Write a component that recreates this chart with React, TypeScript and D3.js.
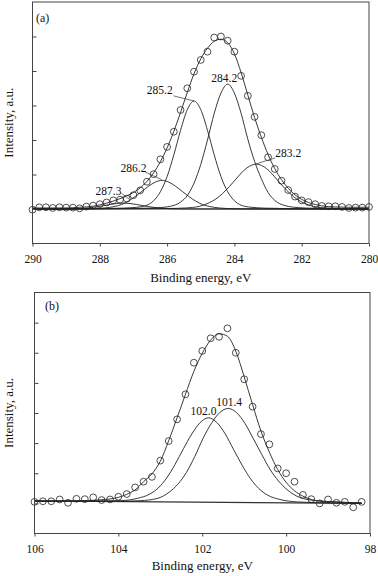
import { useEffect, useRef } from 'react';
import * as d3 from 'd3';

const WIDTH = 378;
const HEIGHT = 576;
const FONT = '"Liberation Serif", "Times New Roman", serif';

// ---- panel (a): C 1s ----
const energyA = [
  290, 289.8, 289.6, 289.4, 289.2, 289, 288.8, 288.6, 288.4, 288.2,
  288, 287.8, 287.6, 287.4, 287.2, 287, 286.8, 286.6, 286.4, 286.2,
  286, 285.8, 285.6, 285.4, 285.2, 285, 284.8, 284.6, 284.4, 284.2,
  284, 283.8, 283.6, 283.4, 283.2, 283, 282.8, 282.6, 282.4, 282.2,
  282, 281.8, 281.6, 281.4, 281.2, 281, 280.8, 280.6, 280.4, 280.2, 280,
];
const countsA = [
  -0.02, 0.05, 0.05, 0.03, 0.05, 0.04, 0.04, 0.02, 0.07, 0.1,
  0.14, 0.19, 0.25, 0.27, 0.3, 0.4, 0.54, 0.79, 1.01, 1.44,
  1.8, 2.24, 2.87, 3.5, 3.98, 4.32, 4.56, 4.97, 5.0, 4.88,
  4.56, 3.86, 3.28, 2.67, 2.14, 1.5, 1.16, 0.82, 0.55, 0.36,
  0.25, 0.2, 0.14, 0.09, 0.08, 0.08, 0.06, 0.03, 0.04, 0.04, 0.06,
];
const envelopeAx = [
  290, 289, 288.6, 288.2, 288, 287.8, 287.6, 287.4, 287.2, 287, 286.8, 286.6, 286.4, 286.2,
  286, 285.8, 285.6, 285.4, 285.2, 285, 284.8, 284.6, 284.4, 284.2, 284, 283.8, 283.6,
  283.4, 283.2, 283, 282.8, 282.6, 282.4, 282.2, 282, 281.8, 281.6, 281.4, 281, 280.6, 280,
];
const envelopeAy = [
  0.03, 0.03, 0.05, 0.08, 0.12, 0.17, 0.23, 0.3, 0.38, 0.48, 0.61, 0.8, 1.05, 1.37,
  1.77, 2.25, 2.8, 3.38, 3.92, 4.35, 4.66, 4.86, 4.92, 4.82, 4.5, 3.95, 3.3,
  2.65, 2.08, 1.58, 1.17, 0.85, 0.6, 0.41, 0.28, 0.19, 0.13, 0.09, 0.06, 0.05, 0.05,
];
const peak2873x = [290, 289.4, 289, 288.7, 288.5, 288.3, 288.1, 287.9, 287.7, 287.5, 287.3, 287.1, 286.9, 286.7, 286.5, 286.3, 286.1, 285.9, 285.6, 285.2, 280];
const peak2873y = [0, 0.002, 0.004, 0.009, 0.019, 0.035, 0.061, 0.094, 0.13, 0.158, 0.17, 0.158, 0.13, 0.094, 0.061, 0.035, 0.019, 0.009, 0.004, 0.002, 0];
const peak2862x = [290, 288.75, 288.25, 287.85, 287.55, 287.35, 287.15, 286.95, 286.75, 286.55, 286.35, 286.15, 285.95, 285.75, 285.55, 285.35, 285.15, 284.95, 284.75, 284.45, 284.05, 283.55, 280];
const peak2862y = [0, 0.004, 0.01, 0.03, 0.075, 0.13, 0.23, 0.36, 0.51, 0.66, 0.78, 0.83, 0.78, 0.66, 0.51, 0.36, 0.23, 0.13, 0.075, 0.03, 0.01, 0.004, 0];
const peak2852x = [290, 287.8, 287.3, 286.9, 286.6, 286.4, 286.2, 286, 285.8, 285.6, 285.4, 285.2, 285, 284.8, 284.6, 284.4, 284.2, 284, 283.8, 283.5, 283.1, 282.6, 280];
const peak2852y = [0, 0.015, 0.025, 0.05, 0.11, 0.24, 0.5, 0.94, 1.57, 2.28, 2.88, 3.13, 2.88, 2.28, 1.57, 0.94, 0.5, 0.24, 0.11, 0.05, 0.025, 0.015, 0];
const peak2842x = [290, 286.8, 286.3, 285.9, 285.6, 285.4, 285.2, 285, 284.8, 284.6, 284.4, 284.2, 284, 283.8, 283.6, 283.4, 283.2, 283, 282.8, 282.5, 282.1, 281.6, 280];
const peak2842y = [0, 0.02, 0.035, 0.08, 0.2, 0.39, 0.75, 1.29, 2.0, 2.77, 3.36, 3.62, 3.36, 2.77, 2.02, 1.38, 0.88, 0.48, 0.25, 0.1, 0.04, 0.02, 0];
const peak2832x = [290, 285.95, 285.45, 285.05, 284.75, 284.55, 284.35, 284.15, 283.95, 283.75, 283.55, 283.35, 283.15, 282.95, 282.75, 282.55, 282.35, 282.15, 281.95, 281.65, 281.25, 280.75, 280];
const peak2832y = [0, 0.015, 0.03, 0.075, 0.18, 0.29, 0.45, 0.65, 0.87, 1.09, 1.24, 1.3, 1.24, 1.09, 0.87, 0.65, 0.45, 0.29, 0.18, 0.075, 0.03, 0.015, 0];
const baselineAx = [290, 280];
const baselineAy = [0, 0];
const xTicksA = [290, 288, 286, 284, 282, 280];
const yTicksA = [0, 1, 2, 3, 4, 5];
const labelsA = [
  { text: '287.3', at: [287.74, 0.41], lead: [[287.35, 0.45], [287.12, 0.28]] },
  { text: '286.2', at: [287.0, 1.07], lead: [[286.65, 1.07], [286.16, 0.85]] },
  { text: '285.2', at: [286.22, 3.32], lead: [[285.81, 3.28], [285.2, 3.13]] },
  { text: '284.2', at: [284.3, 3.67], lead: null },
  { text: '283.2', at: [282.4, 1.52], lead: [[282.79, 1.48], [283.38, 1.3]] },
];

// ---- panel (b): Si 2p ----
const energyB = [
  106, 105.8, 105.6, 105.4, 105.2, 105, 104.8, 104.6, 104.4, 104.2,
  104, 103.8, 103.6, 103.4, 103.2, 103, 102.8, 102.6, 102.4, 102.2,
  102, 101.8, 101.6, 101.4, 101.2, 101, 100.8, 100.6, 100.4, 100.2,
  100, 99.8, 99.6, 99.4, 99.2, 99, 98.8, 98.6, 98.4, 98.2,
];
const countsB = [
  0.05, 0.07, 0.07, 0.13, 0.02, 0.15, 0.14, 0.2, 0.11, 0.13,
  0.22, 0.31, 0.53, 0.72, 0.88, 1.42, 2.07, 2.79, 3.62, 4.67,
  5.06, 5.48, 5.53, 5.81, 5.0, 4.12, 3.21, 2.3, 1.96, 1.16,
  1.0, 0.72, 0.28, 0.14, 0.0, 0.13, 0.02, 0.05, -0.13, 0.05,
];
const envelopeBx = [106, 105, 104.4, 104, 103.8, 103.6, 103.4, 103.2, 103, 102.8, 102.6, 102.4, 102.2, 102, 101.8, 101.6, 101.4, 101.2, 101, 100.8, 100.6, 100.4, 100.2, 100, 99.8, 99.6, 99.4, 99, 98.2];
const envelopeBy = [0.06, 0.08, 0.12, 0.2, 0.3, 0.45, 0.72, 0.98, 1.4, 2.08, 2.84, 3.62, 4.38, 4.98, 5.42, 5.63, 5.55, 5.05, 4.2, 3.28, 2.4, 1.7, 1.12, 0.7, 0.42, 0.24, 0.13, 0.05, 0.02];
const peak1020x = [106, 104.45, 103.95, 103.55, 103.25, 103.05, 102.85, 102.65, 102.45, 102.25, 102.05, 101.85, 101.65, 101.45, 101.25, 101.05, 100.85, 100.65, 100.45, 100.15, 99.75, 99.25, 98.2];
const peak1020y = [0.08, 0.08, 0.09, 0.165, 0.31, 0.51, 0.84, 1.29, 1.81, 2.3, 2.68, 2.84, 2.68, 2.3, 1.78, 1.27, 0.82, 0.49, 0.28, 0.13, 0.05, 0.025, 0];
const peak1014x = [106, 103.98, 103.48, 103.08, 102.78, 102.58, 102.38, 102.18, 101.98, 101.78, 101.58, 101.38, 101.18, 100.98, 100.78, 100.58, 100.38, 100.18, 99.98, 99.68, 99.28, 98.78, 98.2];
const peak1014y = [0.08, 0.07, 0.09, 0.16, 0.38, 0.64, 1.02, 1.55, 2.16, 2.66, 3.02, 3.15, 3.01, 2.65, 2.14, 1.62, 1.12, 0.74, 0.46, 0.2, 0.09, 0.05, 0];
const baselineBx = [106, 98.2];
const baselineBy = [0.08, 0];
const xTicksB = [106, 104, 102, 100, 98];
const yTicksB = [0, 1, 2, 3, 4, 5, 6];
const labelsB = [
  { text: '102.0', at: [101.97, 2.92], lead: null },
  { text: '101.4', at: [101.36, 3.23], lead: null },
];

const zip = (xs: number[], ys: number[]) => xs.map((v, i) => [v, ys[i]] as [number, number]);

const panels = [
  {
    tag: '(a)', tagPos: [36, 22],
    box: { left: 32.5, right: 369, top: 2, bottom: 243.5 },
    xDomain: [290, 280], yDomain: [-1, 6],
    xTicks: xTicksA, yTicks: yTicksA, titleGap: 38,
    points: zip(energyA, countsA),
    envelope: zip(envelopeAx, envelopeAy),
    baseline: zip(baselineAx, baselineAy),
    peaks: [zip(peak2873x, peak2873y), zip(peak2862x, peak2862y), zip(peak2852x, peak2852y), zip(peak2842x, peak2842y), zip(peak2832x, peak2832y)],
    labels: labelsA,
  },
  {
    tag: '(b)', tagPos: [45, 310],
    box: { left: 34.5, right: 370, top: 292.5, bottom: 533.5 },
    xDomain: [106, 98], yDomain: [-1, 7],
    xTicks: xTicksB, yTicks: yTicksB, titleGap: 36,
    points: zip(energyB, countsB),
    envelope: zip(envelopeBx, envelopeBy),
    baseline: zip(baselineBx, baselineBy),
    peaks: [zip(peak1020x, peak1020y), zip(peak1014x, peak1014y)],
    labels: labelsB,
  },
];

export default function App() {
  const svgRef = useRef<SVGSVGElement>(null);

  useEffect(() => {
    const svg = d3.select(svgRef.current);
    svg.selectAll('*').remove();

    for (const p of panels) {
      const { left, right, top, bottom } = p.box;
      const x = d3.scaleLinear().domain(p.xDomain).range([left, right]);
      const y = d3.scaleLinear().domain(p.yDomain).range([bottom, top]);
      const line = d3.line<[number, number]>()
        .x(d => x(d[0]))
        .y(d => y(d[1]))
        .curve(d3.curveMonotoneX);
      const g = svg.append('g');

      g.append('path')
        .attr('d', line(p.baseline))
        .attr('fill', 'none')
        .attr('stroke', '#333')
        .attr('stroke-width', 1.2);

      g.append('g')
        .selectAll('path')
        .data(p.peaks)
        .join('path')
        .attr('d', d => line(d))
        .attr('fill', 'none')
        .attr('stroke', '#222')
        .attr('stroke-width', 0.9);

      g.append('path')
        .attr('d', line(p.envelope))
        .attr('fill', 'none')
        .attr('stroke', '#222')
        .attr('stroke-width', 0.9);

      g.append('g')
        .selectAll('circle')
        .data(p.points)
        .join('circle')
        .attr('cx', d => x(d[0]))
        .attr('cy', d => y(d[1]))
        .attr('r', 3.4)
        .attr('fill', 'none')
        .attr('stroke', '#222')
        .attr('stroke-width', 0.8);

      // peak labels + leaders
      for (const l of p.labels) {
        if (l.lead) {
          g.append('line')
            .attr('x1', x(l.lead[0][0])).attr('y1', y(l.lead[0][1]))
            .attr('x2', x(l.lead[1][0])).attr('y2', y(l.lead[1][1]))
            .attr('stroke', '#333')
            .attr('stroke-width', 0.7);
        }
        g.append('text')
          .attr('x', x(l.at[0]))
          .attr('y', y(l.at[1]))
          .attr('text-anchor', 'middle')
          .attr('font-family', FONT)
          .attr('font-size', 11.5)
          .attr('fill', '#111')
          .text(l.text);
      }

      g.append('rect')
        .attr('x', left).attr('y', top)
        .attr('width', right - left).attr('height', bottom - top)
        .attr('fill', 'none')
        .attr('stroke', '#444')
        .attr('stroke-width', 1);

      g.append('g')
        .attr('transform', `translate(0,${bottom})`)
        .call(d3.axisBottom(x).tickValues(p.xTicks).tickSize(3).tickSizeOuter(0).tickFormat(d3.format('d')))
        .attr('font-family', FONT)
        .attr('font-size', 11.5)
        .call(a => a.select('.domain').remove())
        .call(a => a.selectAll('line').attr('stroke', '#444'))
        .call(a => a.selectAll('text').attr('y', 19).attr('dy', null).attr('fill', '#111'));

      g.append('g')
        .attr('transform', `translate(${left},0)`)
        .call(d3.axisLeft(y).tickValues(p.yTicks).tickSize(-4).tickFormat(() => ''))
        .call(a => a.select('.domain').remove())
        .call(a => a.selectAll('line').attr('stroke', '#444'));

      g.append('text')
        .attr('x', (left + right) / 2)
        .attr('y', bottom + p.titleGap)
        .attr('text-anchor', 'middle')
        .attr('font-family', FONT)
        .attr('font-size', 13)
        .attr('fill', '#111')
        .text('Binding energy, eV');

      g.append('text')
        .attr('transform', `translate(12.5,${(top + bottom) / 2}) rotate(-90)`)
        .attr('text-anchor', 'middle')
        .attr('font-family', FONT)
        .attr('font-size', 13)
        .attr('fill', '#111')
        .text('Intensity, a.u.');

      g.append('text')
        .attr('x', p.tagPos[0])
        .attr('y', p.tagPos[1])
        .attr('font-family', FONT)
        .attr('font-size', 12)
        .attr('fill', '#111')
        .text(p.tag);
    }
  }, []);

  return (
    <div style={{ position: 'absolute', left: 0, top: 0, background: '#fff' }}>
      <svg ref={svgRef} width={WIDTH} height={HEIGHT} style={{ display: 'block' }} />
    </div>
  );
}
